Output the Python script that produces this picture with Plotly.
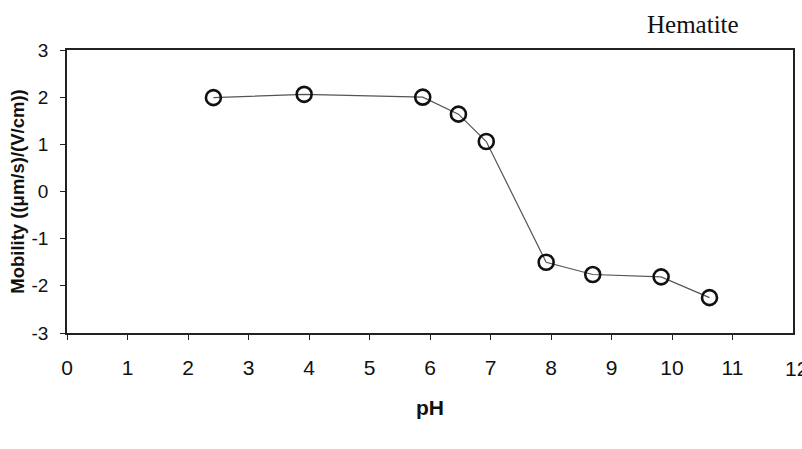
import plotly.graph_objects as go

ph = [2.42, 3.92, 5.88, 6.47, 6.93, 7.92, 8.69, 9.82, 10.62]
mobility = [1.99, 2.06, 2.00, 1.64, 1.06, -1.50, -1.76, -1.81, -2.25]

x_ticks = list(range(0, 12))
y_ticks = list(range(-3, 4))
y_ticktext = [str(v) for v in y_ticks]

W, H = 802, 449
L, R, T, B = 67, 7, 50, 116
pw, ph_px = W - L - R, H - T - B

fig = go.Figure()
fig.add_trace(go.Scatter(
    x=ph, y=mobility, mode="lines+markers",
    line=dict(color="#555555", width=1.2),
    marker=dict(symbol="circle-open", size=15, color="#111111", line=dict(width=2.6)),
    showlegend=False, cliponaxis=False,
))

fig.update_layout(
    width=W, height=H,
    margin=dict(l=L, r=R, t=T, b=B),
    paper_bgcolor="white", plot_bgcolor="white",
    font=dict(family="Arial, Liberation Sans, sans-serif", size=20, color="#111111"),
    xaxis=dict(range=[0, 12], tickvals=x_ticks, showgrid=False, zeroline=False,
               showline=True, linecolor="#222222", linewidth=1.5, mirror=True,
               ticks="outside", ticklen=5, tickcolor="#222222",
               tickfont=dict(size=21), ticklabelstandoff=10,
               title=dict(text="<b>pH</b>", font=dict(size=21), standoff=22)),
    yaxis=dict(range=[-3, 3], tickvals=y_ticks, ticktext=y_ticktext, showgrid=False, zeroline=False,
               showline=True, linecolor="#222222", linewidth=1.5, mirror=True,
               ticks="outside", ticklen=5, tickcolor="#222222",
               tickfont=dict(size=19), ticklabelstandoff=8,
               title=dict(text="<b>Mobility ((μm/s)/(V/cm))</b>", font=dict(size=18.5), standoff=2)),
)

fig.add_annotation(text="Hematite", x=(695 - L) / pw, y=(H - B - 24) / ph_px,
                   xref="paper", yref="paper", showarrow=False,
                   xanchor="center", yanchor="middle",
                   font=dict(family="Liberation Serif, Times New Roman, serif", size=25, color="#111111"))
fig.add_annotation(text="12", x=12, xref="x", xshift=3, y=(H - B - 368) / ph_px, yref="paper",
                   showarrow=False, xanchor="center", yanchor="middle",
                   font=dict(size=21, color="#111111"))
fig.write_html("out.html")
